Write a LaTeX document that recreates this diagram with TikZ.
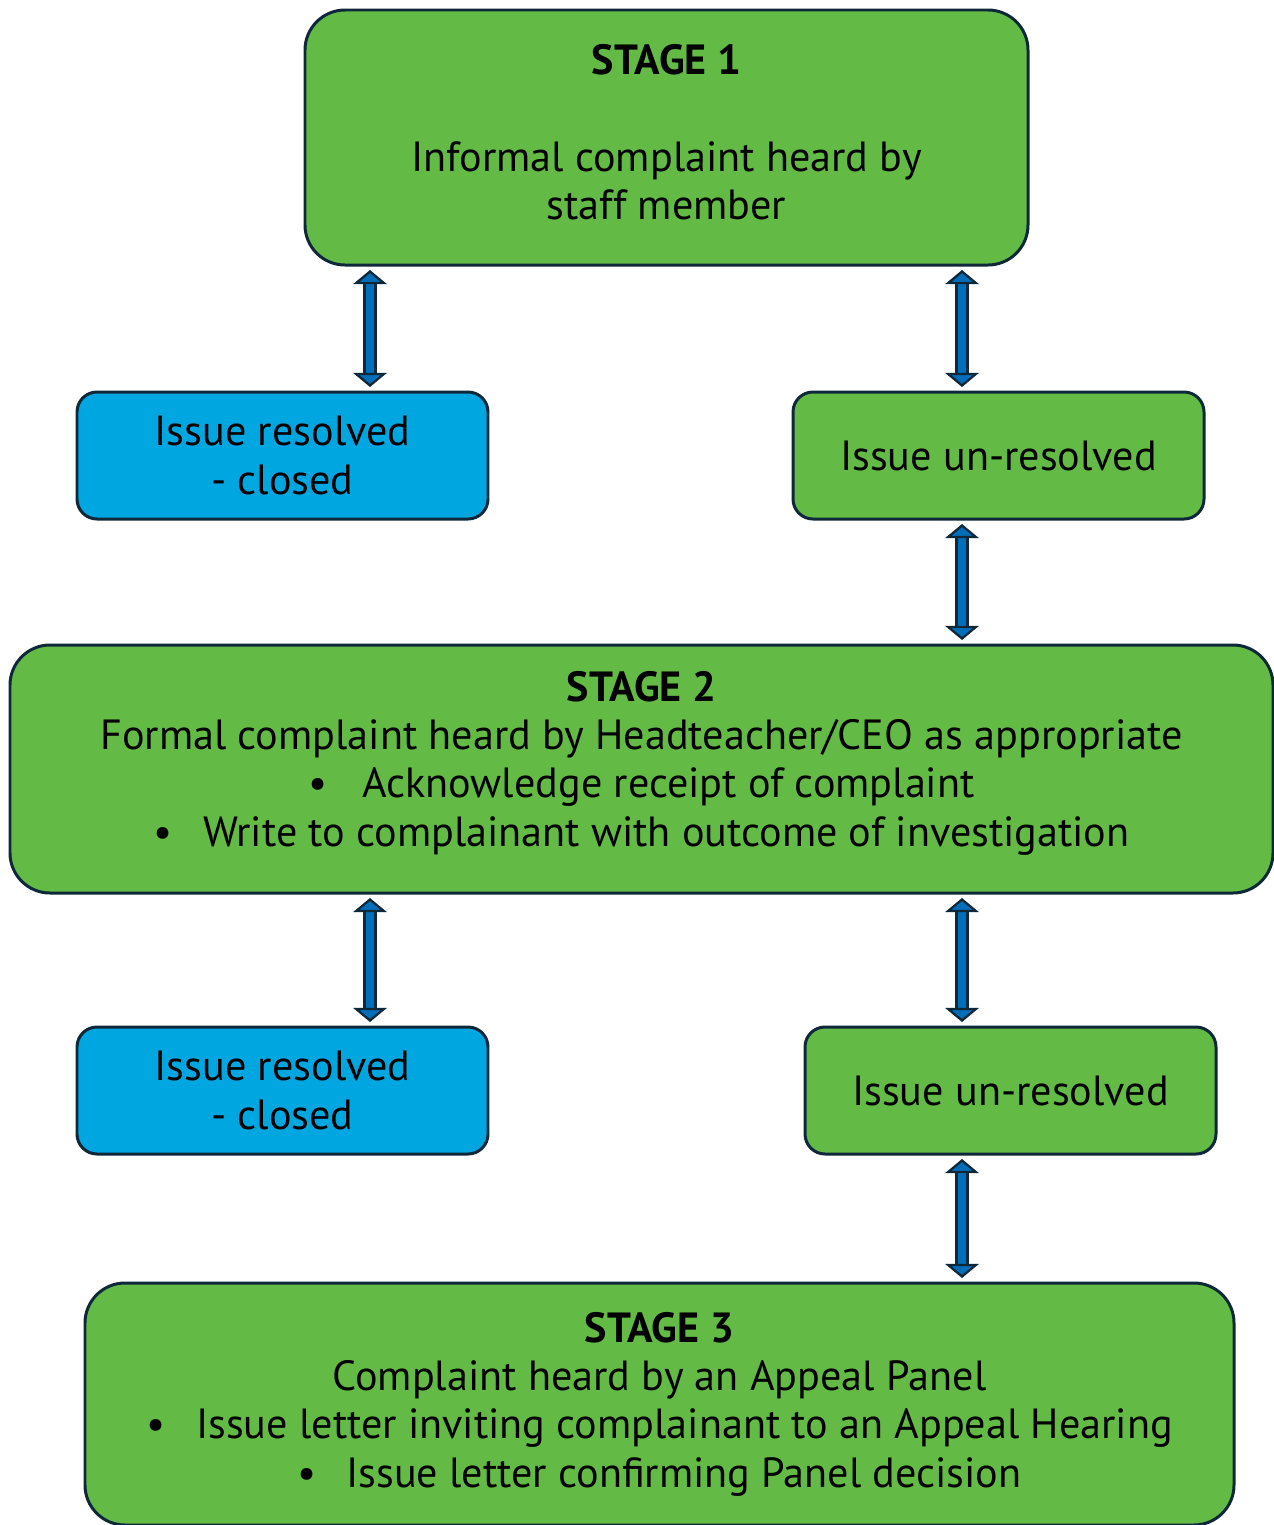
\documentclass[tikz,border=0pt]{standalone}
\usepackage{fontspec}
\setmainfont{PT Sans}
\usetikzlibrary{arrows.meta,calc}
\definecolor{stagegreen}{RGB}{99,187,70}
\definecolor{closedblue}{RGB}{0,166,224}
\definecolor{edgenavy}{RGB}{14,40,58}
\definecolor{arrowblue}{RGB}{0,110,185}

\begin{document}
\begin{tikzpicture}[
  stagebox/.style={draw=edgenavy, line width=1.7pt, fill=stagegreen, rounded corners=0.8cm,
    align=center, font=\fontsize{24}{27.5}\selectfont, inner sep=0pt},
  closedbox/.style={draw=edgenavy, line width=1.7pt, fill=closedblue, rounded corners=0.4cm,
    align=center, font=\fontsize{24}{27.5}\selectfont, minimum width=8.22cm, minimum height=2.54cm},
  openbox/.style={closedbox, fill=stagegreen},
  twoway/.style={draw=arrowblue, line width=5pt,
    {Triangle[length=8pt,width=19pt,line width=1.3pt,fill=arrowblue,color=edgenavy]}-{Triangle[length=8pt,width=19pt,line width=1.3pt,fill=arrowblue,color=edgenavy]},
    preaction={draw=edgenavy, line width=7.6pt, arrows=-, shorten <=8pt, shorten >=8pt},
    shorten <=2pt, shorten >=2pt}
]
\useasboundingbox (0,0) rectangle (25.48,-30.5);
\clip (0,0) rectangle (25.48,-30.5);

 % stages
 \node[stagebox, minimum width=14.46cm, minimum height=5.1cm, text depth=6pt] (s1) at (13.33,-2.75)
   {\textbf{STAGE 1}\\[27.5pt]Informal complaint heard by\\staff member};
 \node[stagebox, minimum width=25.26cm, minimum height=4.96cm, text depth=12pt] (s2) at (12.83,-15.38)
   {\textbf{STAGE 2}\\Formal complaint heard by Headteacher/CEO as appropriate\\
    \makebox[1.08cm][l]{\textbullet}Acknowledge receipt of complaint\\
    \makebox[1.0cm][l]{\textbullet}Write to complainant with outcome of investigation};
 \node[stagebox, minimum width=22.98cm, minimum height=4.84cm] (s3) at (13.19,-28.08)
   {\textbf{STAGE 3}\\Complaint heard by an Appeal Panel\\
    \makebox[1.0cm][l]{\textbullet}Issue letter inviting complainant to an Appeal Hearing\\
    \makebox[0.98cm][l]{\textbullet}Issue letter confirming Panel decision};

 % outcomes
 \node[closedbox] (r1) at (5.65,-9.11) {Issue resolved\\- closed};
 \node[openbox] (u1) at (19.97,-9.11) {Issue un-resolved};
 \node[closedbox] (r2) at (5.65,-21.81) {Issue resolved\\- closed};
 \node[openbox] (u2) at (20.21,-21.81) {Issue un-resolved};

 \coordinate (lx) at (7.4,0);
 \coordinate (rx) at (19.24,0);

 \draw[twoway] (s1.south -| lx) -- (r1.north -| lx);
 \draw[twoway] (s1.south -| rx) -- (u1.north -| rx);
 \draw[twoway] (u1.south -| rx) -- (s2.north -| rx);
 \draw[twoway] (s2.south -| lx) -- (r2.north -| lx);
 \draw[twoway] (s2.south -| rx) -- (u2.north -| rx);
 \draw[twoway] (u2.south -| rx) -- (s3.north -| rx);
\end{tikzpicture}
\end{document}
